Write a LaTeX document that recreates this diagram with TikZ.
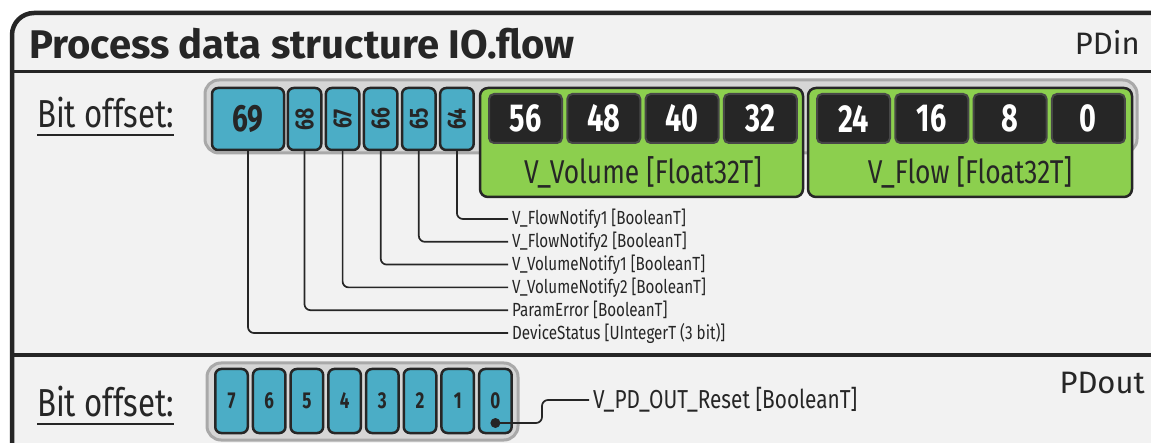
\documentclass[tikz,border=0pt]{standalone}
\usepackage{fontspec}
\setmainfont{Fira Sans}
\newfontfamily\condfont[FakeStretch=0.8]{Fira Sans}
\newfontfamily\narrowfont[FakeStretch=0.74]{Fira Sans}
\usetikzlibrary{calc}
\definecolor{bgray}{HTML}{F2F2F2}
\definecolor{linec}{HTML}{262626}
\definecolor{bitblue}{HTML}{4BADC6}
\definecolor{floatgreen}{HTML}{8CCF4E}
\definecolor{slotgray}{HTML}{D6D6D6}
\definecolor{slotedge}{HTML}{A9A9A9}
\definecolor{cellblack}{HTML}{262626}
\definecolor{celledge}{HTML}{474747}
\def\fsz#1{\fontsize{#1}{#1}\selectfont}

\tikzset{
  bluebit/.style={draw=linec, fill=bitblue, line width=2.5, rounded corners=6, inner sep=0,
    minimum width=33.5, minimum height=62, text=linec, font=\narrowfont\bfseries\fsz{26}},
  bytecell/.style={draw=celledge, fill=cellblack, line width=2, rounded corners=5, inner sep=0,
    minimum width=73, minimum height=49, text=white, font=\narrowfont\bfseries\fsz{39}},
  floatbox/.style={draw=linec, fill=floatgreen, line width=2.5, rounded corners=8},
  slot/.style={draw=slotedge, fill=slotgray, line width=3, rounded corners=14},
  conn/.style={draw=linec, line width=1.7, rounded corners=6},
  bitlabel/.style={anchor=west, inner sep=4, text=linec, font=\condfont\fsz{19}},
  heading/.style={inner sep=0, text=linec},
}

\begin{document}
\begin{tikzpicture}[x=1pt,y=-1pt]
  %%%%% FRAME %%%%%
  \useasboundingbox (0,0) rectangle (1151,443);
  \clip (0,0) rectangle (1151,443);
  \fill[white] (0,0) rectangle (1151,443);
  \draw[line width=4.5, draw=linec, fill=bgray, rounded corners=22] (12,13) rectangle (1175,465);
  \draw[line width=3.5, linec] (12,71.5) -- (1175,71.5);
  \draw[line width=4, linec] (12,355) -- (1175,355);

  \node[heading, anchor=base west, font=\bfseries\fsz{40}] (title) at (29,59) {Process data structure IO.flow};
  \node[heading, anchor=base east, font=\fsz{31}] (pdin) at (1140,55) {PDin};
  \node[heading, anchor=base east, font=\fsz{31}] (pdout) at (1145,393) {PDout};

  %%%%% PDIN %%%%%
  \node[heading, anchor=base west, font=\condfont\fsz{39}] (offin) at (37,128) {Bit offset:};
  \draw[linec, line width=2] ([yshift=-7pt]offin.base west) -- ([yshift=-7pt]offin.base east);

  \draw[slot] (205,80) rectangle (1137,153);
  \node[bluebit, minimum width=72, font=\narrowfont\bfseries\fsz{38}] (b69) at (248,119) {69};
  \foreach \b [count=\i from 0] in {68,67,66,65,64}
    \node[bluebit] (b\b) at (304.5+38.1*\i,119) {\rotatebox{90}{\b}};

  \draw[floatbox] (480,88) rectangle (803,197);
  \draw[floatbox] (808,88) rectangle (1132,197);
  \foreach \v [count=\i from 0] in {56,48,40,32}
    \node[bytecell] (c\v) at (525.5+78.3*\i,118.5) {\v};
  \foreach \v [count=\i from 0] in {24,16,8,0}
    \node[bytecell] (c\v) at (853.5+78.3*\i,118.5) {\v};
  \node[heading, font=\condfont\fsz{33}] (volume) at (643,172) {V\_Volume [Float32T]};
  \node[heading, font=\condfont\fsz{33}] (flow) at (970,172) {V\_Flow [Float32T]};

  \foreach \b/\lab [count=\k from 0] in {64/{V\_FlowNotify1 [BooleanT]}, 65/{V\_FlowNotify2 [BooleanT]},
      66/{V\_VolumeNotify1 [BooleanT]}, 67/{V\_VolumeNotify2 [BooleanT]},
      68/{ParamError [BooleanT]}, 69/{DeviceStatus [UIntegerT (3 bit)]}}{
    \node[bitlabel] (l\b) at (508,219+22.8*\k) {\lab};
    \draw[conn] (b\b.south) |- (l\b.west);
  }

  %%%%% PDOUT %%%%%
  \node[heading, anchor=base west, font=\condfont\fsz{39}] (offout) at (37,417) {Bit offset:};
  \draw[linec, line width=2] ([yshift=-7pt]offout.base west) -- ([yshift=-7pt]offout.base east);

  \draw[slot] (207,363) rectangle (518,440);
  \foreach \v [count=\i from 0] in {7,6,...,0}
    \node[bluebit, minimum width=32.5, minimum height=64, font=\narrowfont\bfseries\fsz{23}] (o\v) at (231.5+37.7*\i,401) {\v};

  \node[circle, fill=linec, inner sep=0, minimum size=10] (dot) at ($(o0.center)+(0,22)$) {};
  \coordinate (bend) at (542,423);
  \node[bitlabel, font=\condfont\fsz{26}] (lreset) at (589,400) {V\_PD\_OUT\_Reset [BooleanT]};
  \draw[conn] (dot.center) -- (bend) |- (lreset.west);
\end{tikzpicture}
\end{document}
